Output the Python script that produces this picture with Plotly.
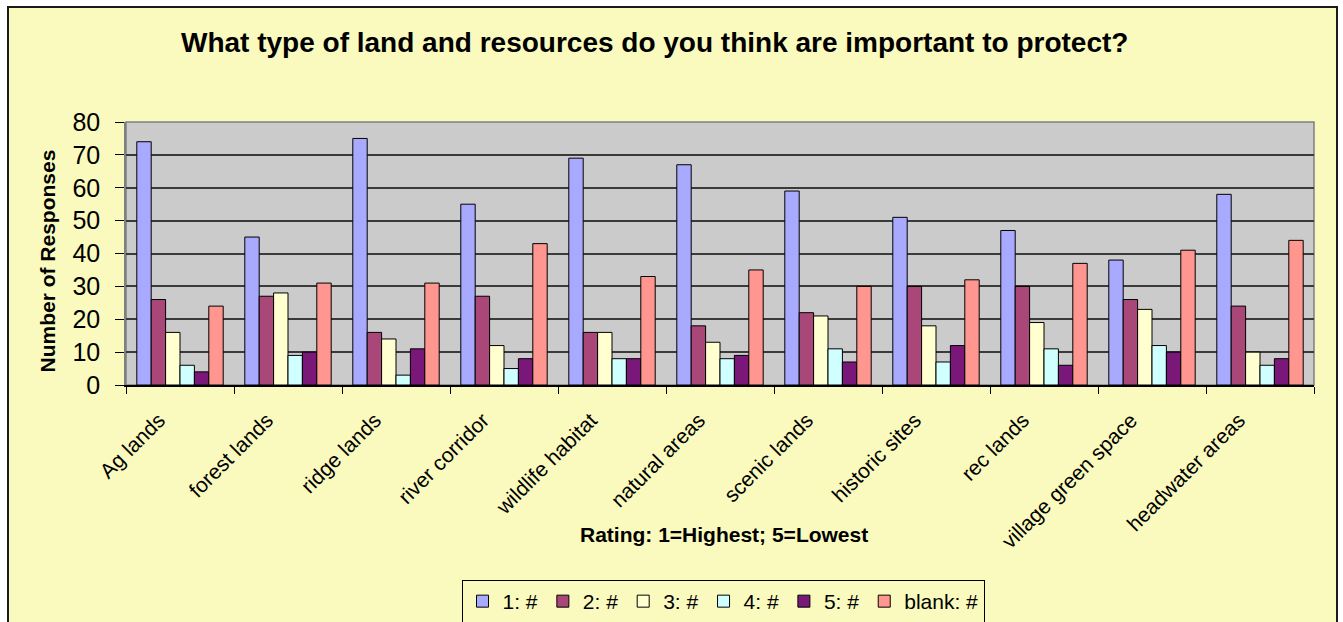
import plotly.graph_objects as go

# Survey results: responses per land/resource type by rating
categories = ["Ag lands", "forest lands", "ridge lands", "river corridor",
              "wildlife habitat", "natural areas", "scenic lands", "historic sites",
              "rec lands", "village green space", "headwater areas"]
rating_1 = [74, 45, 75, 55, 69, 67, 59, 51, 47, 38, 58]
rating_2 = [26, 27, 16, 27, 16, 18, 22, 30, 30, 26, 24]
rating_3 = [16, 28, 14, 12, 16, 13, 21, 18, 19, 23, 10]
rating_4 = [6, 9, 3, 5, 8, 8, 11, 7, 11, 12, 6]
rating_5 = [4, 10, 11, 8, 8, 9, 7, 12, 6, 10, 8]
rating_blank = [24, 31, 31, 43, 33, 35, 30, 32, 37, 41, 44]

series_names = ["1: #", "2: #", "3: #", "4: #", "5: #", "blank: #"]
series_values = [rating_1, rating_2, rating_3, rating_4, rating_5, rating_blank]
series_colors = ["#A8AAFF", "#A94878", "#FFFFD0", "#D0FFFF", "#7A187A", "#FF968F"]

y_ticks = [0, 10, 20, 30, 40, 50, 60, 70, 80]

FONT = "Liberation Sans, Arial, sans-serif"
W, H = 1343, 622
L, R, T, B = 126, 29, 122, 237  # plot area: x 126..1314, y 122..385
PW, PH = W - L - R, H - T - B


def px_x(px):
    return (px - L) / PW


def px_y(py):
    return (H - B - py) / PH


fig = go.Figure()
for name, vals, col in zip(series_names, series_values, series_colors):
    fig.add_trace(go.Bar(
        name=name, x=categories, y=vals,
        marker=dict(color=col, line=dict(color="#000000", width=1)),
    ))

fig.update_layout(
    width=W, height=H,
    margin=dict(l=L, r=R, t=T, b=B, autoexpand=False),
    barmode="group", bargap=0.2, bargroupgap=0,
    paper_bgcolor="#FFFFFF",
    plot_bgcolor="rgba(0,0,0,0)",
    font=dict(family=FONT, color="#000000"),
    showlegend=True,
    legend=dict(
        orientation="h", x=px_x(723), y=px_y(580), xanchor="center", yanchor="top",
        xref="paper", yref="paper",
        bgcolor="#FAFABE", bordercolor="#000000", borderwidth=1,
        font=dict(size=21, family=FONT), itemwidth=30,
    ),
    xaxis=dict(
        type="category", tickangle=-45, tickfont=dict(size=21, family=FONT),
        ticks="outside", tickson="boundaries", ticklen=7, tickcolor="#000000",
        ticklabelshift=-21, ticklabelstandoff=13,
        showline=True, linecolor="#000000", linewidth=1.5,
        showgrid=False, zeroline=False, fixedrange=True,
    ),
    yaxis=dict(
        range=[0, 80], tickvals=y_ticks, tickfont=dict(size=25, family=FONT),
        ticks="outside", ticklen=9, tickcolor="#000000", ticklabelstandoff=10,
        showline=True, linecolor="#808080", linewidth=1.5,
        showgrid=True, gridcolor="#3A3A3A", gridwidth=1.5,
        zeroline=False, fixedrange=True,
    ),
    shapes=[
        # chart frame
        dict(type="rect", xref="paper", yref="paper", layer="below",
             x0=px_x(8), x1=px_x(1337), y0=px_y(626), y1=px_y(7),
             fillcolor="#FAFABE", line=dict(color="#1A1A1A", width=2)),
        # plot area
        dict(type="rect", xref="paper", yref="paper", layer="below",
             x0=0, x1=1, y0=0, y1=1,
             fillcolor="#CBCBCB", line=dict(color="#808080", width=1.5)),
    ],
    annotations=[
        dict(text="<b>What type of land and resources do you think are important to protect?</b>",
             xref="paper", yref="paper", x=px_x(654.5), y=px_y(42),
             xanchor="center", yanchor="middle", showarrow=False,
             font=dict(size=28, family=FONT)),
        dict(text="<b>Rating: 1=Highest; 5=Lowest</b>",
             xref="paper", yref="paper", x=px_x(723.5), y=px_y(534),
             xanchor="center", yanchor="middle", showarrow=False,
             font=dict(size=21, family=FONT)),
        dict(text="<b>Number of Responses</b>", textangle=-90,
             xref="paper", yref="paper", x=px_x(46.5), y=px_y(261),
             xanchor="center", yanchor="middle", showarrow=False,
             font=dict(size=21, family=FONT)),
    ],
)

fig.write_html("out.html")
